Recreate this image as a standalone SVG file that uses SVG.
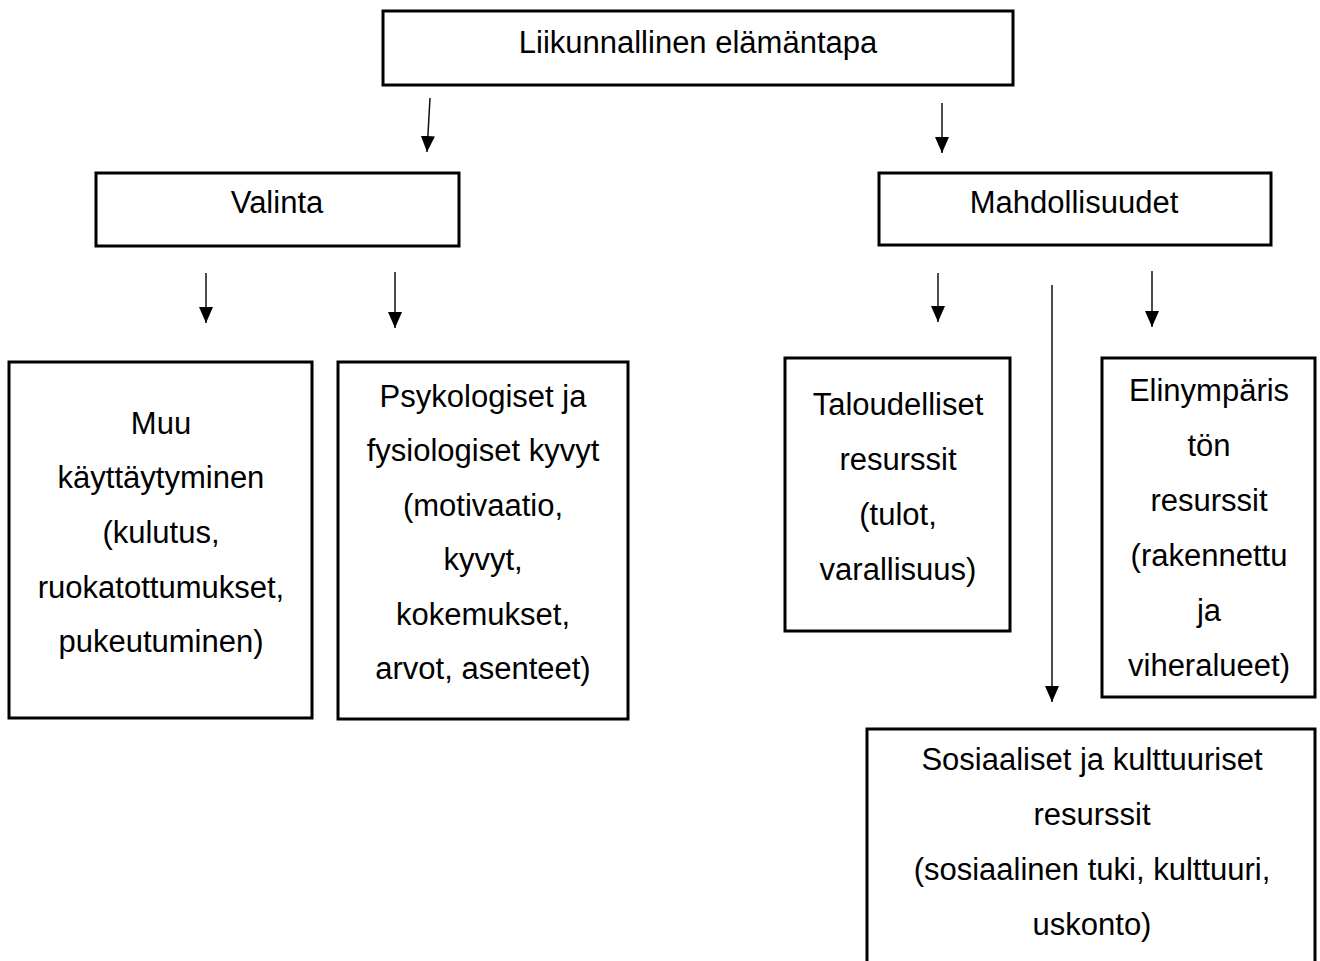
<svg xmlns="http://www.w3.org/2000/svg" width="1320" height="961" viewBox="0 0 1320 961">
<style>
.box{fill:#fff;stroke:#000;stroke-width:3}
.t{font-family:"Liberation Sans",Arial,sans-serif;font-size:31px;fill:#000;text-anchor:middle}
.c{stroke:#111;stroke-width:1.5;fill:none;marker-end:url(#ah)}
</style>
<defs>
<marker id="ah" markerUnits="userSpaceOnUse" markerWidth="16" markerHeight="14" refX="16" refY="7" orient="auto">
<path d="M0,0 L16,7 L0,14 z" fill="#000"/>
</marker>
</defs>
<rect width="1320" height="961" fill="#fff"/>
<g id="connectors">
<line class="c" x1="430" y1="98" x2="427" y2="152"/>
<line class="c" x1="942" y1="103" x2="942" y2="153"/>
<line class="c" x1="206" y1="273" x2="206" y2="323"/>
<line class="c" x1="395" y1="272" x2="395" y2="328"/>
<line class="c" x1="938" y1="273" x2="938" y2="322"/>
<line class="c" x1="1052" y1="285" x2="1052" y2="702"/>
<line class="c" x1="1152" y1="271" x2="1152" y2="327"/>
</g>
<g id="n-top">
<rect class="box" x="383" y="11" width="630" height="74"/>
<text class="t" x="698" y="53">Liikunnallinen elämäntapa</text>
</g>
<g id="n-valinta">
<rect class="box" x="96" y="173" width="363" height="73"/>
<text class="t" x="277" y="213">Valinta</text>
</g>
<g id="n-mahdollisuudet">
<rect class="box" x="879" y="173" width="392" height="72"/>
<text class="t" x="1074" y="213">Mahdollisuudet</text>
</g>
<g id="n-muu">
<rect class="box" x="9" y="362" width="303" height="356"/>
<text class="t" x="161" y="434">Muu</text>
<text class="t" x="161" y="488">käyttäytyminen</text>
<text class="t" x="161" y="543">(kulutus,</text>
<text class="t" x="161" y="598">ruokatottumukset,</text>
<text class="t" x="161" y="652">pukeutuminen)</text>
</g>
<g id="n-psyk">
<rect class="box" x="338" y="362" width="290" height="357"/>
<text class="t" x="483" y="407">Psykologiset ja</text>
<text class="t" x="483" y="461">fysiologiset kyvyt</text>
<text class="t" x="483" y="516">(motivaatio,</text>
<text class="t" x="483" y="570">kyvyt,</text>
<text class="t" x="483" y="625">kokemukset,</text>
<text class="t" x="483" y="679">arvot, asenteet)</text>
</g>
<g id="n-talous">
<rect class="box" x="785" y="358" width="225" height="273"/>
<text class="t" x="898" y="415">Taloudelliset</text>
<text class="t" x="898" y="470">resurssit</text>
<text class="t" x="898" y="525">(tulot,</text>
<text class="t" x="898" y="580">varallisuus)</text>
</g>
<g id="n-elinymparisto">
<rect class="box" x="1102" y="358" width="213" height="339"/>
<text class="t" x="1209" y="401">Elinympäris</text>
<text class="t" x="1209" y="456">tön</text>
<text class="t" x="1209" y="511">resurssit</text>
<text class="t" x="1209" y="566">(rakennettu</text>
<text class="t" x="1209" y="621">ja</text>
<text class="t" x="1209" y="676">viheralueet)</text>
</g>
<g id="n-sosiaaliset">
<rect class="box" x="867" y="729" width="448" height="260"/>
<text class="t" x="1092" y="770">Sosiaaliset ja kulttuuriset</text>
<text class="t" x="1092" y="825">resurssit</text>
<text class="t" x="1092" y="880">(sosiaalinen tuki, kulttuuri,</text>
<text class="t" x="1092" y="935">uskonto)</text>
</g>
</svg>
